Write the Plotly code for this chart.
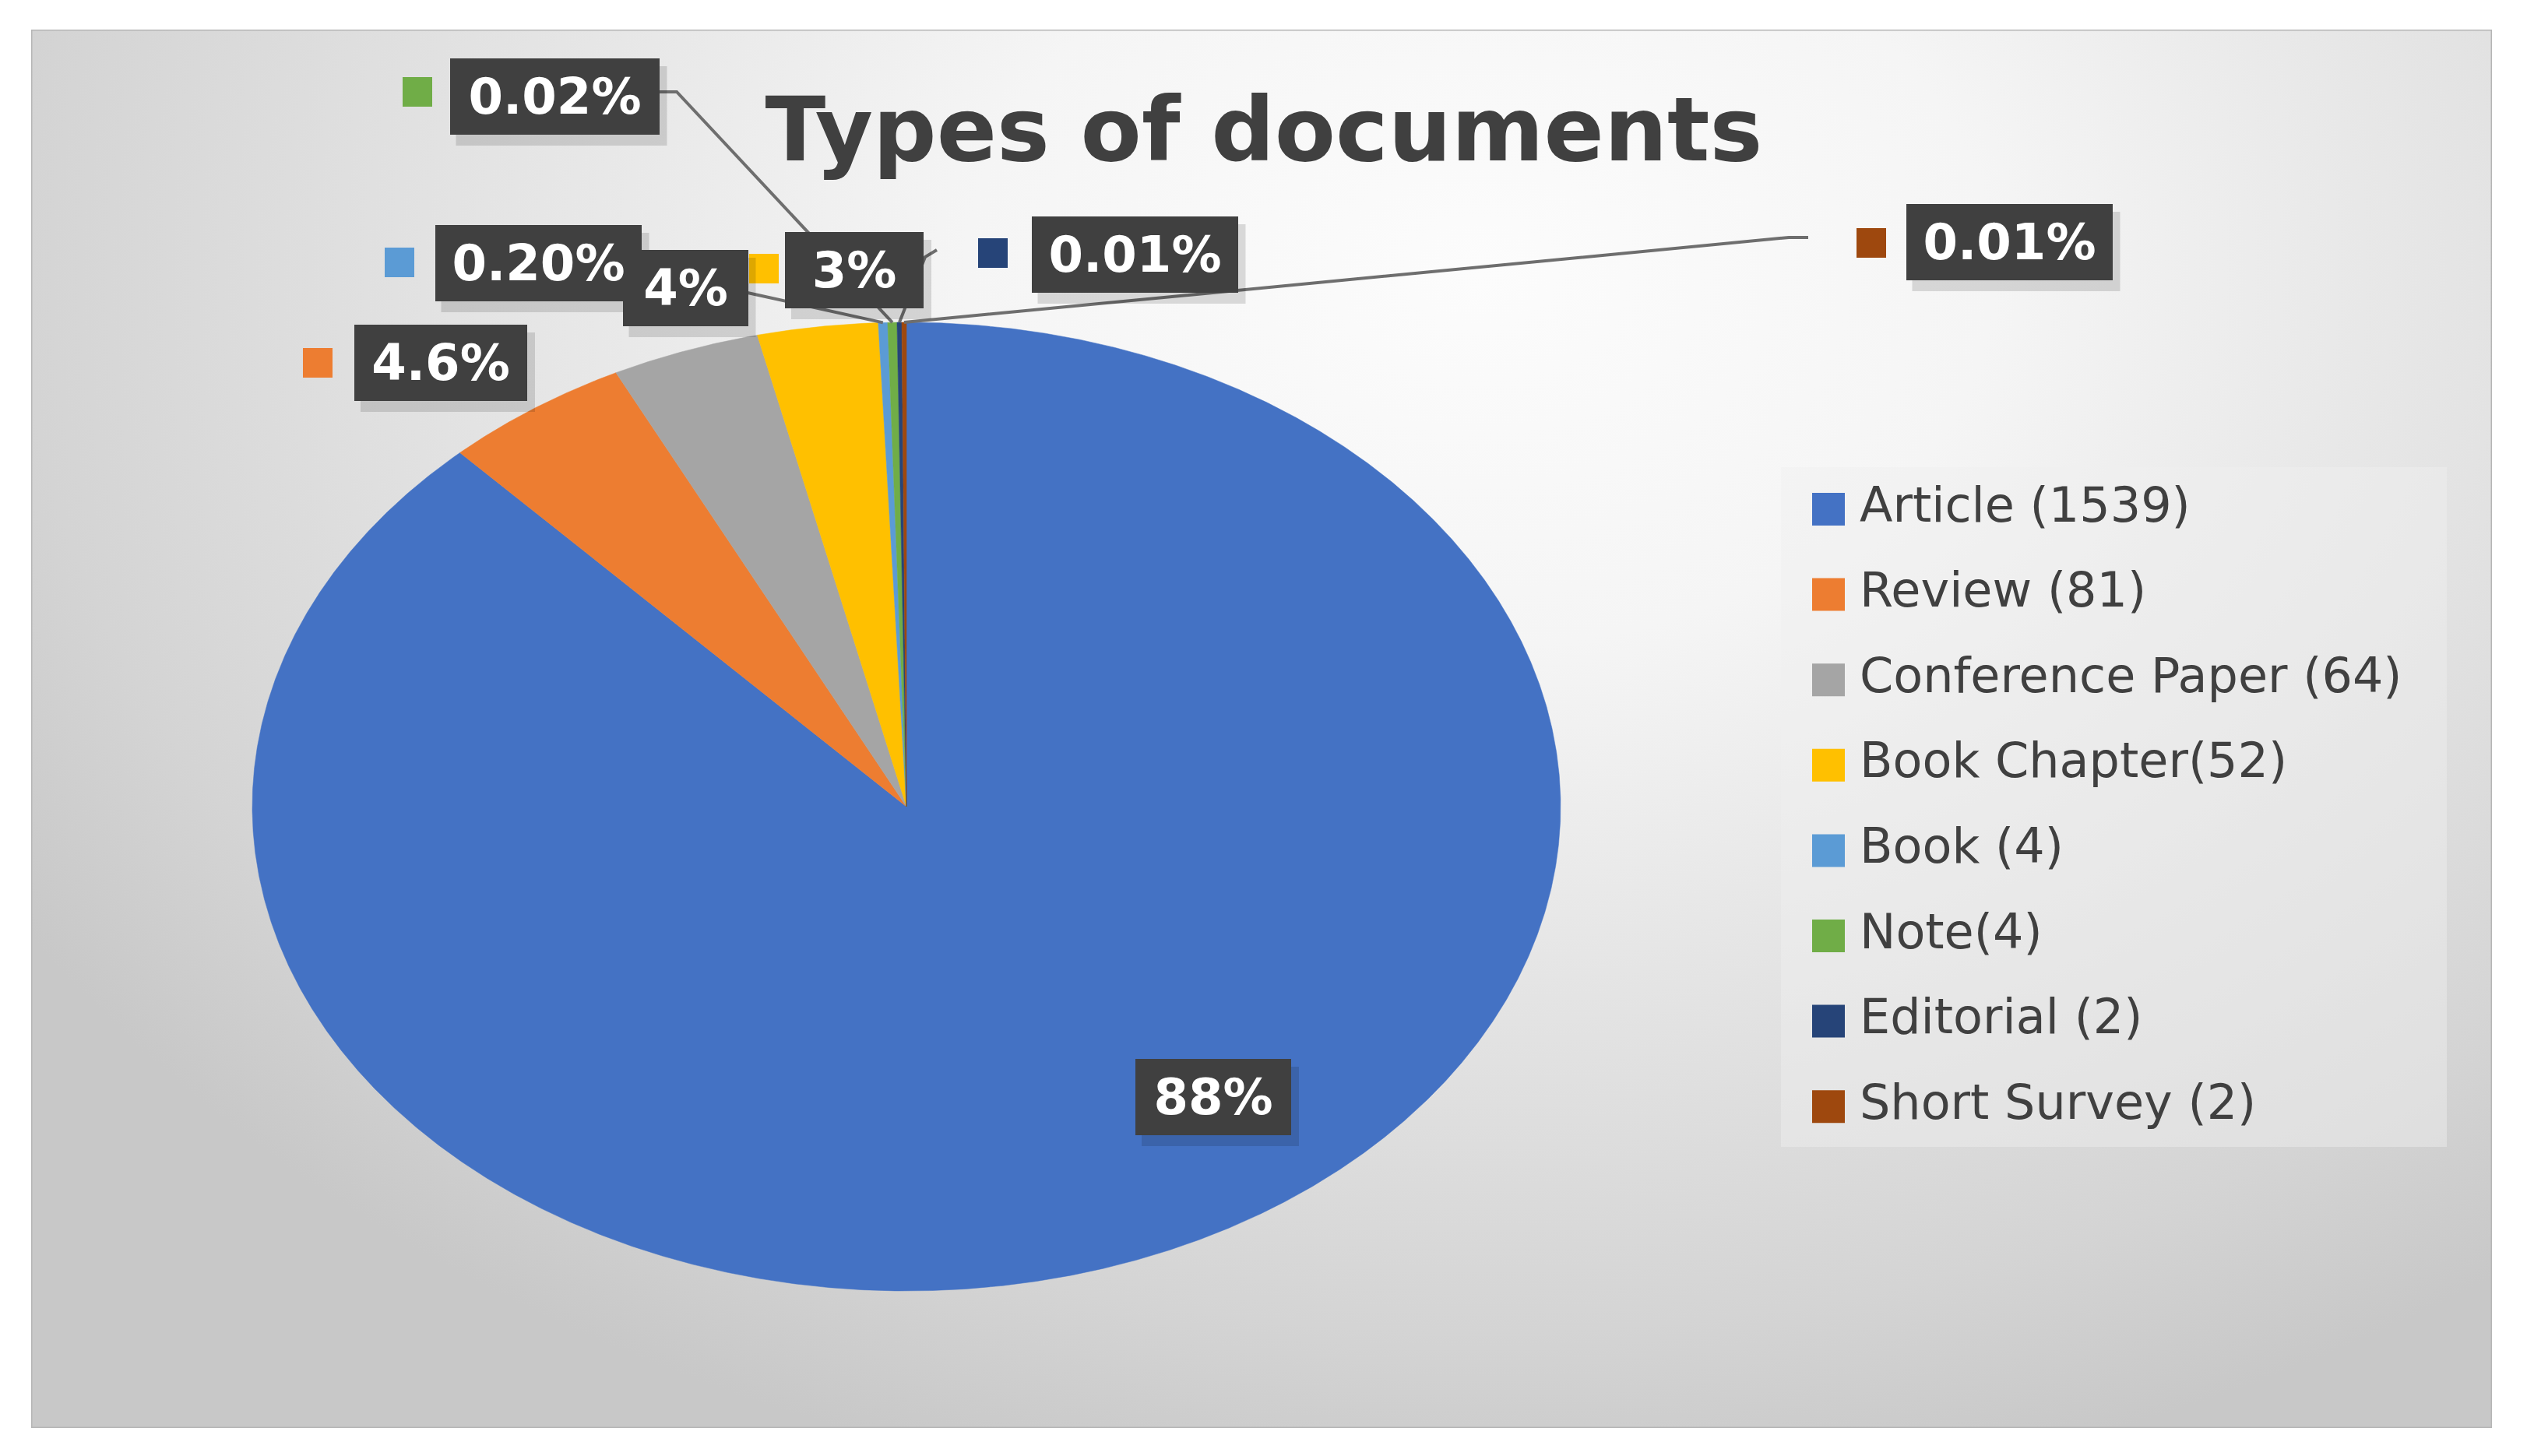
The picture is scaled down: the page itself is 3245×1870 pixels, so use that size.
import numpy as np
import plotly.graph_objects as go

# ---- data ----
doc_types = ["Article", "Review", "Conference Paper", "Book Chapter",
             "Book", "Note", "Editorial", "Short Survey"]
doc_counts = [1539, 81, 64, 52, 4, 4, 2, 2]
count_sep = [" ", " ", " ", "", " ", "", " ", " "]   # spacing as printed in the legend
pct_labels = ["88%", "4.6%", "4%", "3%", "0.20%", "0.02%", "0.01%", "0.01%"]

colors = ["#4472C4", "#ED7D31", "#A5A5A5", "#FFC000",
          "#5B9BD5", "#70AD47", "#264478", "#9E480E"]

# ---- layout constants (pixels of the 3245x1870 page) ----
W, H = 3245, 1870
BODY = 8                                      # default html body margin
px0, py0, px1, py1 = 40, 38, 3200, 1834       # chart panel
cx, cy, rx, ry = 1164, 1036, 840, 622         # pie ellipse

# data label boxes (centre, width) and the small colour keys next to them
lab_x = [1558, 566, 880, 1097, 691, 712, 1457, 2580]
lab_y = [1409, 466, 370, 347, 338, 124, 327, 311]
lab_w = [200, 222, 161, 178, 265, 269, 265, 265]
lab_h = 98
key_x = [None, 408, None, 981, 513, 536, 1275, 2403]
key_y = [None, 466, None, 345, 337, 118, 325, 312]
# leader lines for the thin slices: points after the pie edge
leaders = {4: [(960, 376)],
           5: [(869, 118), (846, 118)],
           6: [(1188, 330), (1203, 321)],
           7: [(2297, 305), (2322, 305)]}

leg_x, leg_tx, leg_y0, leg_dy = 2348, 2388, 654, 109.6
font = "DejaVu Sans"

fig = go.Figure()

# panel background with radial shading
fig.add_trace(go.Scatter(
    x=[-300, 4100, 4100, -300, -300], y=[-1250, -1250, 1950, 1950, -1250],
    mode="lines", line=dict(width=0), fill="toself",
    fillgradient=dict(type="radial",
                      colorscale=[[0, "#fcfcfc"], [0.3, "#f5f5f5"], [0.6, "#e3e3e3"],
                                  [0.85, "#d4d4d4"], [1, "#c8c8c8"]]),
    hoverinfo="skip", showlegend=False))

# legend box
fig.add_trace(go.Scatter(
    x=[2287, 3142, 3142, 2287, 2287], y=[600, 600, 1473, 1473, 600],
    mode="lines", line=dict(width=0), fill="toself",
    fillcolor="rgba(240,240,240,0.45)", hoverinfo="skip", showlegend=False))

# pie slices, clockwise from 12 o'clock
frac = np.array(doc_counts, dtype=float) / sum(doc_counts)
edges = np.concatenate([[0], np.cumsum(frac)]) * 2 * np.pi
mid_pts = []
for i, name in enumerate(doc_types):
    t = np.linspace(edges[i], edges[i + 1], max(4, int(frac[i] * 1440)))
    xs = np.concatenate([[cx], cx + rx * np.sin(t), [cx]])
    ys = np.concatenate([[cy], cy - ry * np.cos(t), [cy]])
    fig.add_trace(go.Scatter(
        x=xs, y=ys, mode="lines", fill="toself", fillcolor=colors[i],
        line=dict(color=colors[i], width=0.5), name=name,
        hovertemplate=f"{name}: {doc_counts[i]}<extra></extra>", showlegend=False))
    tm = (edges[i] + edges[i + 1]) / 2
    mid_pts.append((cx + rx * np.sin(tm), cy - ry * np.cos(tm)))

# leader lines
for i, pts in leaders.items():
    xs = [mid_pts[i][0]] + [p[0] for p in pts]
    ys = [mid_pts[i][1]] + [p[1] for p in pts]
    fig.add_trace(go.Scatter(x=xs, y=ys, mode="lines",
                             line=dict(color="#6e6e6e", width=4),
                             hoverinfo="skip", showlegend=False))

# colour keys beside data labels
kx = [key_x[i] for i in range(len(doc_types)) if key_x[i] is not None]
ky = [key_y[i] for i in range(len(doc_types)) if key_x[i] is not None]
kc = [colors[i] for i in range(len(doc_types)) if key_x[i] is not None]
fig.add_trace(go.Scatter(x=kx, y=ky, mode="markers",
                         marker=dict(symbol="square", size=38, color=kc, line=dict(width=0)),
                         hoverinfo="skip", showlegend=False))

# legend drawn as markers + text
leg_rows = [leg_y0 + k * leg_dy for k in range(len(doc_types))]
leg_text = [f"{n}{s}({c})" for n, s, c in zip(doc_types, count_sep, doc_counts)]
fig.add_trace(go.Scatter(
    x=[leg_x] * len(doc_types), y=leg_rows, mode="markers",
    marker=dict(symbol="square", size=42, color=colors, line=dict(width=0)),
    hoverinfo="skip", showlegend=False))
fig.add_trace(go.Scatter(
    x=[leg_tx] * len(doc_types), y=leg_rows, mode="text", text=leg_text,
    textposition="middle right",
    textfont=dict(family=font, size=62, color="#404040"),
    hoverinfo="skip", showlegend=False))

# data labels (dark boxes), with soft shadows
shapes = []
annotations = []
for i in range(len(doc_types)):
    x0 = lab_x[i] - lab_w[i] / 2
    y0 = lab_y[i] - lab_h / 2
    shapes.append(dict(type="rect", xref="x", yref="y", layer="above",
                       x0=x0 + 8, x1=x0 + lab_w[i] + 10, y0=y0 + 10, y1=y0 + lab_h + 14,
                       fillcolor="rgba(0,0,0,0.13)", line=dict(width=0)))
    annotations.append(dict(
        x=lab_x[i], y=lab_y[i], xref="x", yref="y", text=f"<b>{pct_labels[i]}</b>",
        showarrow=False, width=lab_w[i], height=lab_h, borderpad=0, borderwidth=0,
        bgcolor="#404040", font=dict(family=font, size=64, color="white"),
        xanchor="center", yanchor="middle"))

# panel border
shapes.append(dict(type="rect", xref="x", yref="y", layer="above",
                   x0=px0, x1=px1, y0=py0, y1=py1, line=dict(color="#b5b5b5", width=3)))

fw, fh = W - 2 * BODY, H - 2 * BODY
fig.update_layout(
    width=fw, height=fh,
    margin=dict(l=px0 - BODY, r=fw - (px1 - BODY), t=py0 - BODY, b=fh - (py1 - BODY)),
    paper_bgcolor="white", plot_bgcolor="#e6e6e6",
    title=dict(text="<b>Types of documents</b>", x=(1623 - BODY) / fw, xanchor="center",
               y=1 - (166 - BODY) / fh, yanchor="middle",
               font=dict(family=font, size=114, color="#404040")),
    xaxis=dict(range=[px0, px1], visible=False, fixedrange=True),
    yaxis=dict(range=[py1, py0], visible=False, fixedrange=True),
    shapes=shapes, annotations=annotations,
    showlegend=False,
)

fig.write_html("out.html")
